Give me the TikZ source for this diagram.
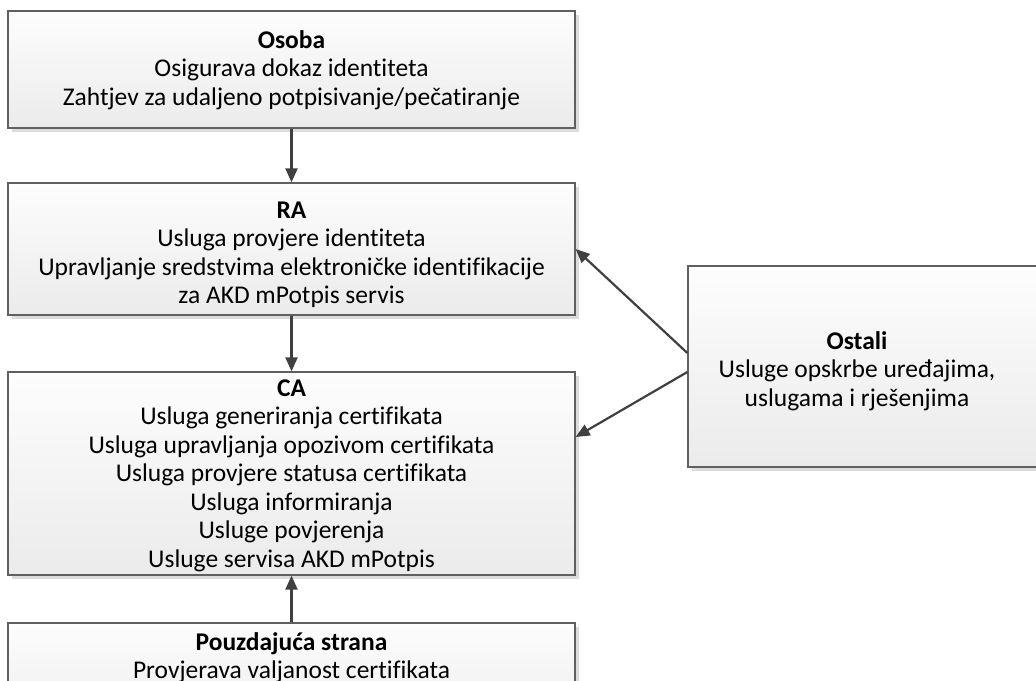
\documentclass[tikz,border=0pt]{standalone}
\usepackage{fontspec}
\setmainfont{Carlito}[Ligatures=NoCommon]
\usetikzlibrary{arrows.meta,shadows,calc}
\definecolor{boxline}{RGB}{96,96,96}
\definecolor{boxtop}{RGB}{253,253,253}
\definecolor{boxbot}{RGB}{235,235,235}
\definecolor{shadowc}{RGB}{220,220,220}
\definecolor{arrowc}{RGB}{64,64,64}
\tikzset{
  boxnode/.style={draw=boxline, line width=1.3pt, top color=boxtop, bottom color=boxbot,
    rectangle, inner sep=0pt,
    drop shadow={shadow xshift=4pt, shadow yshift=-4pt, fill=shadowc, opacity=1}},
  txt/.style={align=center, inner sep=0pt, text=black, font=\fontsize{25.5}{28.5}\selectfont},
  arr/.style={draw=arrowc, line width=2.2pt, -{Triangle[length=14pt,width=12pt]}}
}
\begin{document}
\begin{tikzpicture}[x=1pt,y=-1pt]
\useasboundingbox (0,0) rectangle (1036,680);
\clip (0,0) rectangle (1036,680);
% boxes
\node[boxnode, minimum width=567pt, minimum height=117pt] (osoba) at (291.5,69.5) {};
\node[boxnode, minimum width=567pt, minimum height=132pt] (ra) at (291.5,249) {};
\node[boxnode, minimum width=567pt, minimum height=203pt] (ca) at (291.5,473.5) {};
\node[boxnode, minimum width=567pt, minimum height=117pt] (pouz) at (291.5,681.5) {};
\node[boxnode, minimum width=358pt, minimum height=201pt] (ostali) at (867,366.5) {};
% texts
\node[txt] (osoba-t) at (291.5,70) {\textbf{Osoba}\\Osigurava dokaz identiteta\\Zahtjev za udaljeno potpisivanje/pečatiranje};
\node[txt] (ra-t) at (291.5,255) {\textbf{RA}\\Usluga provjere identiteta\\Upravljanje sredstvima elektroničke identifikacije\\za AKD mPotpis servis};
\node[txt] (ca-t) at (291.5,475.5) {\textbf{CA}\\Usluga generiranja certifikata\\Usluga upravljanja opozivom certifikata\\Usluga provjere statusa certifikata\\Usluga informiranja\\Usluge povjerenja\\Usluge servisa AKD mPotpis};
\node[txt] (pouz-t) at (291.5,657.5) {\textbf{Pouzdajuća strana}\\Provjerava valjanost certifikata};
\node[txt] (ostali-t) at (857,370.8) {\textbf{Ostali}\\Usluge opskrbe uređajima,\\uslugama i rješenjima};
% connectors
\coordinate (os1) at ($(ostali.west)+(0,-13.5)$);
\coordinate (os2) at ($(ostali.west)+(0,5.5)$);
\coordinate (caIn) at ($(ca.east)+(0,-36.5)$);
\draw[arr] (osoba.south) -- (ra.north);
\draw[arr] (ra.south) -- (ca.north);
\draw[arr] (pouz.north) -- (ca.south);
\draw[arr] (os1) -- (ra.east);
\draw[arr] (os2) -- (caIn);
\end{tikzpicture}
\end{document}
